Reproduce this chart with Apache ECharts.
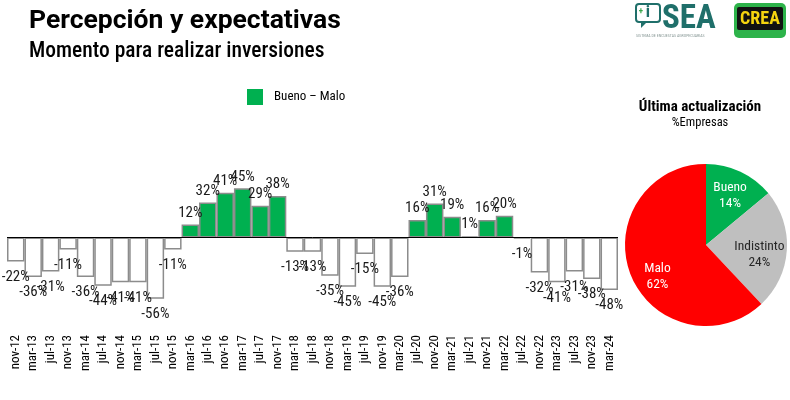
<!DOCTYPE html>
<html>
<head>
<meta charset="utf-8">
<script src="https://cdn.jsdelivr.net/npm/echarts@6/dist/echarts.min.js"></script>
<style>
html,body{margin:0;padding:0;background:#fff;}
#chart{width:790px;height:400px;}
</style>
</head>
<body>
<div id="chart"></div>
<script>
const categories = ['nov-12','mar-13','jul-13','nov-13','mar-14','jul-14','nov-14','mar-15','jul-15','nov-15',
  'mar-16','jul-16','nov-16','mar-17','jul-17','nov-17','mar-18','jul-18','nov-18','mar-19','jul-19','nov-19',
  'mar-20','jul-20','nov-20','mar-21','jul-21','nov-21','mar-22','jul-22','nov-22','mar-23','jul-23','nov-23','mar-24'];
const buenoMenosMalo = [-22,-36,-31,-11,-36,-44,-41,-41,-56,-11,
  12,32,41,45,29,38,-13,-13,-35,-45,-15,-45,
  -36,16,31,19,1,16,20,-1,-32,-41,-31,-38,-48];
const seriesName = 'Bueno – Malo';
const pieNames = ['Bueno','Indistinto','Malo'];
const pieValues = [14,24,62];

const FF = "'Roboto Condensed','Liberation Sans Narrow','Arial Narrow',Roboto,sans-serif";
const FT = "Roboto,'Roboto Condensed',sans-serif";
const GREEN = '#00b050';
const pieColors = [GREEN, '#bfbfbf', '#ff0000'];
const pieLabelColors = ['#fff', '#262626', '#fff'];
const pieLabelNudge = [[0, 2], [-3, 6], [4, 11]];

const chart = echarts.init(document.getElementById('chart'), null, {renderer:'canvas'});

const barData = buenoMenosMalo.map(v => v < 0
  ? {value: v, itemStyle: {color: '#ffffff'}, label: {position: 'bottom', distance: 8}}
  : {value: v, label: {position: 'top', distance: 4}});

const pieData = pieNames.map((n, i) => ({
  name: n, value: pieValues[i],
  itemStyle: {color: pieColors[i]},
  label: {color: pieLabelColors[i], offset: pieLabelNudge[i]}
}));

const option = {
  animation: false,
  textStyle: {fontFamily: FF},
  graphic: [
    {type:'text', x:29, y:8, style:{text:'Percepción y expectativas', font:'bold 26.5px ' + FT, fill:'#000', textVerticalAlign:'top'}},
    {type:'text', x:29, y:41, style:{text:'Momento para realizar inversiones', font:'500 21.5px ' + FF, fill:'#000', textVerticalAlign:'top'}},
    {type:'text', x:700, y:100, style:{text:'Última actualización', font:'bold 15px ' + FF, fill:'#000', textAlign:'center', textVerticalAlign:'top'}},
    {type:'text', x:700, y:116, style:{text:'%Empresas', font:'12.5px ' + FF, fill:'#000', textAlign:'center', textVerticalAlign:'top'}},
    // SEA logo
    {type:'rect', shape:{x:636, y:4, width:24, height:18, r:3}, style:{fill:'none', stroke:'#1f6f6a', lineWidth:2}},
    {type:'polygon', shape:{points:[[641,22],[641,28],[647,22]]}, style:{fill:'#1f6f6a'}},
    {type:'text', x:648, y:4, style:{text:'i', font:'bold 17px ' + FF, fill:'#1f6f6a', textAlign:'center', textVerticalAlign:'top'}},
    {type:'text', x:641, y:7, style:{text:'+', font:'bold 9px ' + FF, fill:'#3aa64a', textAlign:'center', textVerticalAlign:'top'}},
    {type:'text', x:662, y:3, style:{text:'SEA', font:'bold 33px ' + FF, fill:'#1f6f6a', textVerticalAlign:'top'}},
    {type:'text', x:636, y:34, style:{text:'SISTEMA DE ENCUESTAS AGROPECUARIAS', font:'4px ' + FF, fill:'#8a9a98', textVerticalAlign:'top'}},
    // CREA logo
    {type:'rect', shape:{x:734, y:3, width:52, height:35, r:5}, style:{fill:'#2db34a'}},
    {type:'rect', shape:{x:737, y:7, width:46, height:23, r:2}, style:{fill:'#111'}},
    {type:'text', x:760, y:19, style:{text:'CREA', font:'bold 18px ' + FF, fill:'#f5d40f', textAlign:'center', textVerticalAlign:'middle'}}
  ],
  legend: {
    left: 242, top: 84,
    icon: 'rect', itemWidth: 16, itemHeight: 16,
    data: [{name: seriesName, itemStyle: {color: GREEN, borderWidth: 0}}],
    textStyle: {fontSize: 13, color: '#000', padding: [0,0,0,6], fontFamily: FF}
  },
  grid: {left: 7, right: 172, top: 150, height: 175, containLabel: false},
  xAxis: {
    type: 'category', data: categories,
    axisLine: {show: false}, axisTick: {show: false},
    axisLabel: {rotate: 90, interval: 0, margin: 10, fontSize: 13, color: '#000', fontFamily: FF}
  },
  yAxis: {type: 'value', min: -80, max: 80, show: false, splitLine: {show: false}},
  series: [
    {
      name: seriesName, type: 'bar', barCategoryGap: '0%',
      data: barData,
      itemStyle: {color: GREEN, borderColor: '#8c8c8c', borderWidth: 1.5},
      label: {show: true, formatter: '{c}%', fontSize: 15, color: '#1a1a1a', fontFamily: FF},
      labelLayout: {hideOverlap: false},
      markLine: {
        silent: true, symbol: 'none', animation: false,
        lineStyle: {color: '#000', width: 1, type: 'solid'},
        label: {show: false},
        data: [{yAxis: 0}]
      }
    },
    {
      type: 'pie', center: [706, 245], radius: 81, startAngle: 90, clockwise: true,
      data: pieData, label: {show: false}, labelLine: {show: false}
    },
    {
      type: 'pie', center: [706, 245], radius: [26, 81], startAngle: 90, clockwise: true, silent: true,
      data: pieData.map(d => ({name: d.name, value: d.value, itemStyle: {color: 'rgba(0,0,0,0)'}, label: d.label})),
      label: {show: true, position: 'inside', formatter: '{b}\n{c}%', fontSize: 13.5, lineHeight: 16, fontFamily: FF},
      labelLine: {show: false}
    }
  ]
};
chart.setOption(option);
</script>
</body>
</html>
